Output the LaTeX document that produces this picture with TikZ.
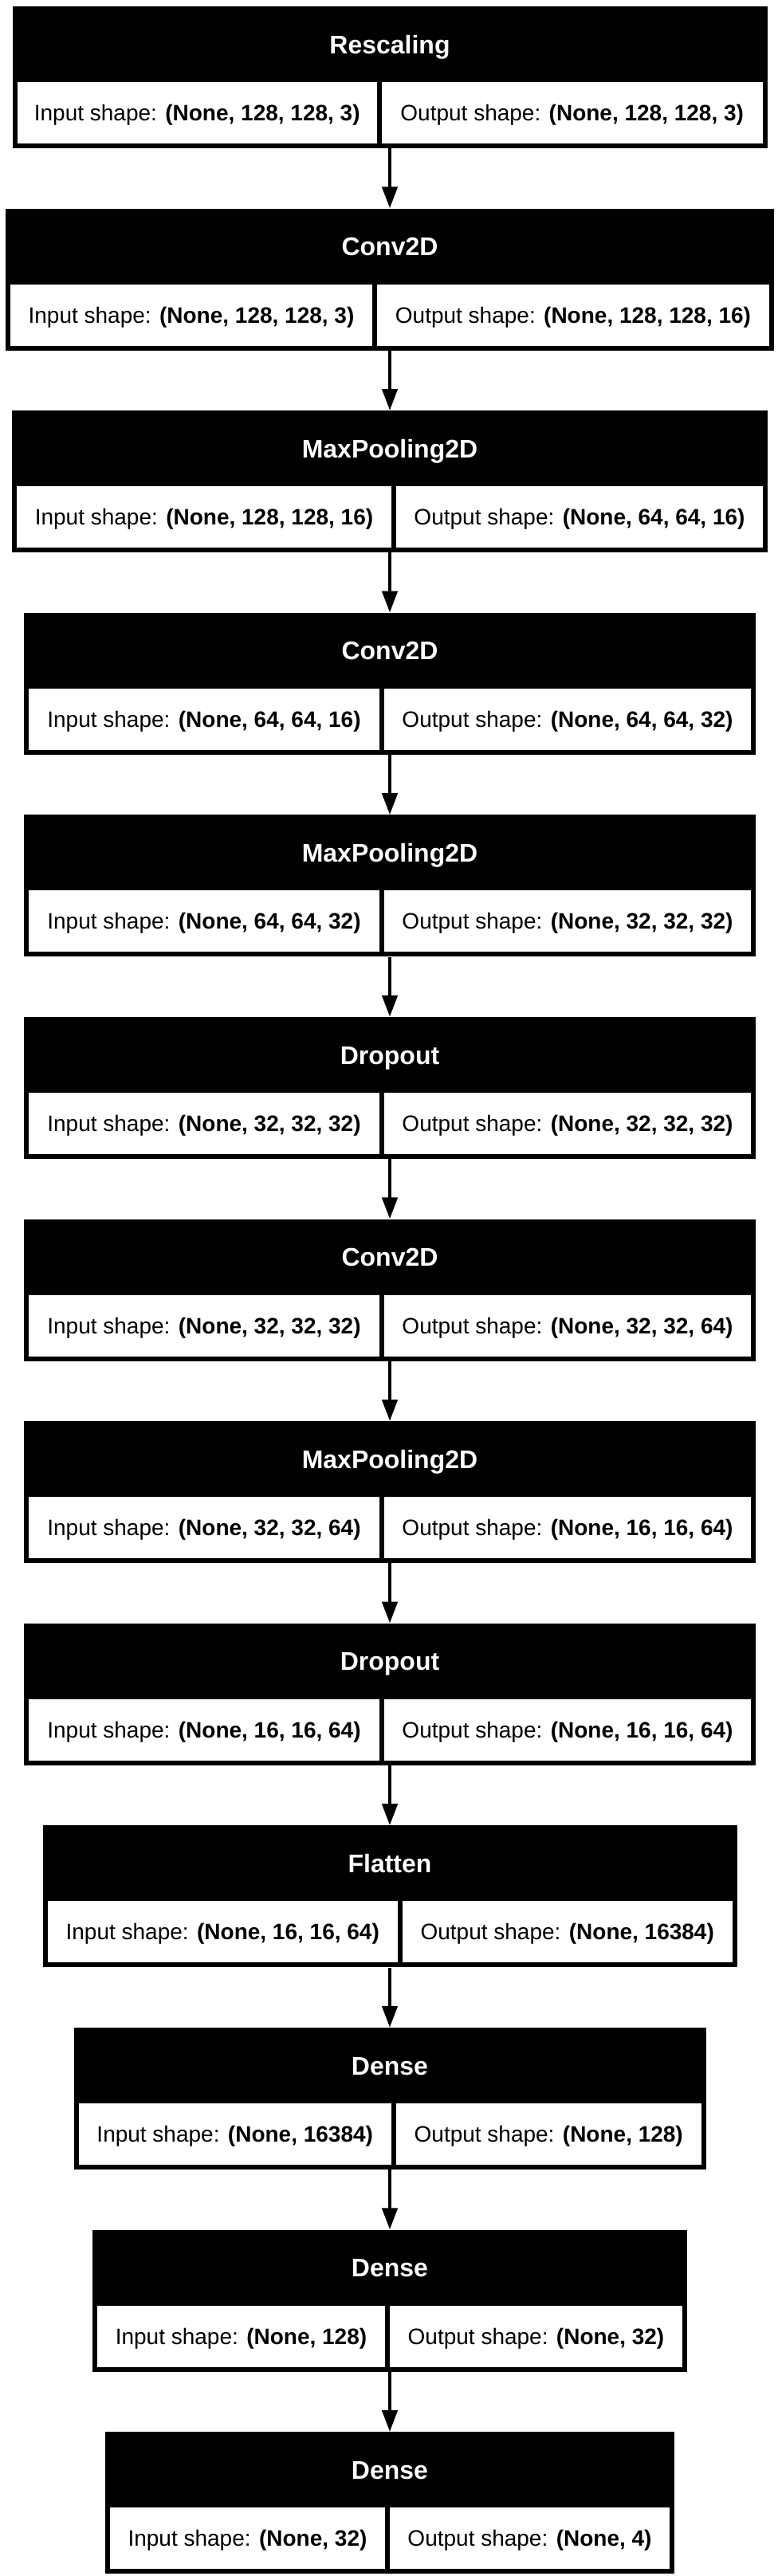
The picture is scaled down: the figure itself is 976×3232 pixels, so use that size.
\documentclass[tikz,border=0pt]{standalone}
\usepackage{fontspec}
\setmainfont{Liberation Sans}
\usepackage{tikz}
\usetikzlibrary{arrows.meta}
\definecolor{headBlack}{gray}{0}
\definecolor{cellWhite}{gray}{1}

\tikzset{
    layerbox/.style={fill=headBlack, inner sep=0pt, minimum height=178pt},
    headtext/.style={text=cellWhite, inner sep=0pt, font=\fontsize{32}{38}\selectfont\bfseries, text height=23pt, text depth=0pt},
    shapecell/.style={fill=cellWhite, inner sep=0pt, minimum height=77pt, font=\fontsize{28}{34}\selectfont, text height=20pt, text depth=0pt},
    flow/.style={line width=4.5pt, -{Triangle[length=27pt, width=19pt]}}
}

\begin{document}
\begin{tikzpicture}[x=1pt, y=-1pt]
    \useasboundingbox (0,0) rectangle (976,3232);
    \foreach \i/\lname/\ins/\outs/\bw/\dv in {
        0/Rescaling/{(None, 128, 128, 3)}/{(None, 128, 128, 3)}/947/476,
        1/Conv2D/{(None, 128, 128, 3)}/{(None, 128, 128, 16)}/964/470,
        2/MaxPooling2D/{(None, 128, 128, 16)}/{(None, 64, 64, 16)}/948/494,
        3/Conv2D/{(None, 64, 64, 16)}/{(None, 64, 64, 32)}/918/479,
        4/MaxPooling2D/{(None, 64, 64, 32)}/{(None, 32, 32, 32)}/918/479,
        5/Dropout/{(None, 32, 32, 32)}/{(None, 32, 32, 32)}/918/479,
        6/Conv2D/{(None, 32, 32, 32)}/{(None, 32, 32, 64)}/918/479,
        7/MaxPooling2D/{(None, 32, 32, 64)}/{(None, 16, 16, 64)}/918/479,
        8/Dropout/{(None, 16, 16, 64)}/{(None, 16, 16, 64)}/918/479,
        9/Flatten/{(None, 16, 16, 64)}/{(None, 16384)}/871/502,
        10/Dense/{(None, 16384)}/{(None, 128)}/793/494,
        11/Dense/{(None, 128)}/{(None, 32)}/746/486,
        12/Dense/{(None, 32)}/{(None, 4)}/714/486}{
        \pgfmathsetmacro\ytop{8+\i*253.6}
        \pgfmathsetmacro\xl{489-\bw/2}
        \pgfmathsetmacro\xr{489+\bw/2}
        \pgfmathsetmacro\inw{\dv-3-\xl-6}
        \pgfmathsetmacro\outw{\xr-6-\dv-3}
        \node[layerbox, minimum width=\bw pt] (layer\i) at (489, \ytop+89) {};
        \node[headtext] (head\i) at (489, \ytop+47.5) {\lname};
        \node[shapecell, minimum width=\inw pt] (in\i) at ({(\xl+6+\dv-3)/2}, \ytop+133.5) {Input shape: \textbf{\ins}};
        \node[shapecell, minimum width=\outw pt] (out\i) at ({(\dv+3+\xr-6)/2}, \ytop+133.5) {Output shape: \textbf{\outs}};
    }
    \foreach \i [evaluate=\i as \j using int(\i+1)] in {0,...,11}
        \draw[flow] (layer\i.south) -- (layer\j.north);
\end{tikzpicture}
\end{document}
